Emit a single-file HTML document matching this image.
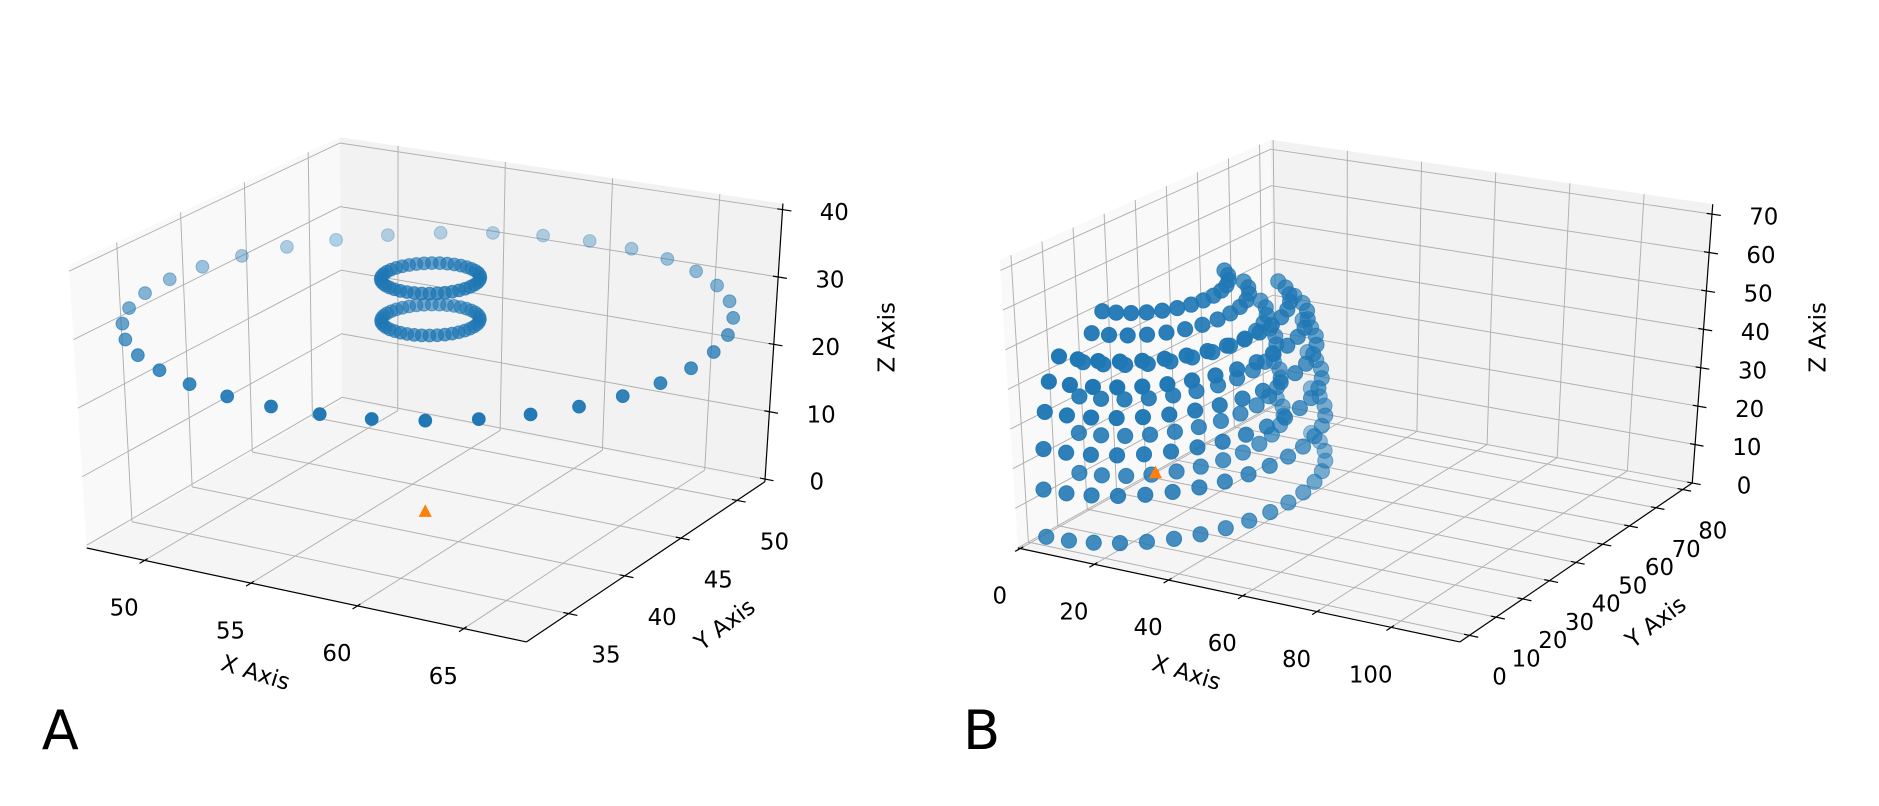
<!DOCTYPE html>
<html><head><meta charset="utf-8"><style>
html,body{margin:0;padding:0;background:#fff;}
svg{display:block;font-family:"DejaVu Sans","Liberation Sans",sans-serif;}
</style></head><body>
<svg id="fig" width="1879" height="806" viewBox="0 0 1560 669.2" xmlns="http://www.w3.org/2000/svg">
<g id="panelA"></g>
<g id="panelB"></g>
<text x="50" y="622" font-size="45" text-anchor="middle">A</text>
<text x="815" y="622" font-size="45" text-anchor="middle">B</text>
</svg>
<script>
// ---- Panel A data ----
const aXTicks = [50, 55, 60, 65];
const aYTicks = [35, 40, 45, 50];
const aZTicks = [0, 10, 20, 30, 40];
const aRingCenters = [[57.6, 41.9, 28.4], [57.6, 41.9, 29.0], [57.6, 41.9, 35.2]];
const aRingAxis1 = [[10.5, 6.5], [1.7, 1.05], [1.7, 1.05]];
const aRingAxis2 = [[5.6, -10.6], [0.93, -1.75], [0.93, -1.75]];
const aRingCounts = [36, 40, 40];
const aTarget = [57.3, 42.0, 0.2];
// ---- Panel B data ----
const bXTicks = [0, 20, 40, 60, 80, 100];
const bYTicks = [0, 10, 20, 30, 40, 50, 60, 70, 80];
const bZTicks = [0, 10, 20, 30, 40, 50, 60, 70];
const bCenter = [1, 41];
const bRadius = 37;
const bLonDeg = [-90,-81,-72,-63,-54,-45,-36,-27,-18,-9,0,9,18,27,36,45,54,63];
const bLevelZ = [0, 12, 22, 31, 38, 43];
const bLevelR = [1, 1, 0.98, 0.95, 0.9, 0.8];
const bInnerRadius = 28;
const bInnerLonDeg = [-85,-74,-63,-52,-41,-30,-19,-8,3,14,25,36,47,58];
const bInnerLevelZ = [13, 23, 32, 40, 46, 50];
const bInnerLevelR = [1, 0.98, 0.95, 0.88, 0.75, 0.6];
const bTarget = [0, 42.4, 0];

const NS = "http://www.w3.org/2000/svg";
function el(tag, attrs, parent){const e=document.createElementNS(NS,tag);for(const k in attrs)e.setAttribute(k,attrs[k]);parent.appendChild(e);return e;}

function makeProj(P){
  function bil(c,u,v){return [(1-u)*(1-v)*c[0][0]+u*(1-v)*c[1][0]+(1-u)*v*c[2][0]+u*v*c[3][0],
                              (1-u)*(1-v)*c[0][1]+u*(1-v)*c[1][1]+(1-u)*v*c[2][1]+u*v*c[3][1]];}
  return function(x,y,z){
    const u=(x-P.xl[0])/(P.xl[1]-P.xl[0]), v=(y-P.yl[0])/(P.yl[1]-P.yl[0]), w=(z-P.zl[0])/(P.zl[1]-P.zl[0]);
    const f=bil(P.F,u,v), t=bil(P.T,u,v);
    return [f[0]+(t[0]-f[0])*w, f[1]+(t[1]-f[1])*w, 0.433*u-0.75*v+0.5*w];
  };
}

function drawPanel(g, P, xt, yt, zt, pts, tri){
  const p=makeProj(P);
  const [x0,x1]=P.xl,[y0,y1]=P.yl,[z0,z1]=P.zl;
  const poly=(arr,fill,name)=>{const e=el('polygon',{points:arr.map(a=>{const q=p(...a);return q[0]+','+q[1];}).join(' '),fill:fill},g);
    
    };
  poly([[x0,y0,z0],[x0,y1,z0],[x0,y1,z1],[x0,y0,z1]],'#f9f9f9','left-pane');
  poly([[x0,y1,z0],[x1,y1,z0],[x1,y1,z1],[x0,y1,z1]],'#f2f2f2','back-pane');
  poly([[x0,y0,z0],[x1,y0,z0],[x1,y1,z0],[x0,y1,z0]],'#f5f5f5','floor-pane');
  const line=(a,b,stroke,sw,name)=>{const q=p(...a),r=p(...b);const e=el('line',{x1:q[0],y1:q[1],x2:r[0],y2:r[1],stroke:stroke,'stroke-width':sw},g);
    
    return e;};
  const gc='#b0b0b0', gw=0.8;
  yt.forEach(y=>{line([x0,y,z0],[x0,y,z1],gc,gw,'grid-line');line([x0,y,z0],[x1,y,z0],gc,gw,'grid-line');});
  zt.forEach(z=>{line([x0,y0,z],[x0,y1,z],gc,gw,'grid-line');line([x0,y1,z],[x1,y1,z],gc,gw,'grid-line');});
  xt.forEach(x=>{line([x,y1,z0],[x,y1,z1],gc,gw,'grid-line');line([x,y0,z0],[x,y1,z0],gc,gw,'grid-line');});
  line([x0,y0,z0],[x1,y0,z0],'#000',1,'x-axis-line');
  line([x1,y0,z0],[x1,y1,z0],'#000',1,'y-axis-line');
  line([x1,y1,z0],[x1,y1,z1],'#000',1,'z-axis-line');
  const yr=y1-y0,xr=x1-x0;
  const txt=(pt,s,size,name,rot)=>{const e=el('text',{x:pt[0],y:pt[1],'font-size':size,'text-anchor':'middle','dominant-baseline':'central'},g);
    if(rot!==undefined)e.setAttribute('transform','rotate('+rot+' '+pt[0]+' '+pt[1]+')');
    e.textContent=s;
    
    };
  xt.forEach(x=>{line([x,y0-0.02*yr,z0],[x,y0+0.012*yr,z0],'#000',1,'x-tick');const q=p(x,y0,z0);txt([q[0]+P.xo[0],q[1]+P.xo[1]],String(x),19,'x-tick-label');});
  yt.forEach(y=>{line([x1-0.012*xr,y,z0],[x1+0.02*xr,y,z0],'#000',1,'y-tick');const q=p(x1,y,z0);txt([q[0]+P.yo[0],q[1]+P.yo[1]],String(y),19,'y-tick-label');});
  zt.forEach(z=>{line([x1-0.012*xr,y1,z],[x1+0.02*xr,y1,z],'#000',1,'z-tick');const q=p(x1,y1,z);txt([q[0]+P.zo[0],q[1]+P.zo[1]],String(z),19,'z-tick-label');});
  txt(P.xlab,'X Axis',19,'x-axis-title',17);
  txt(P.ylab,'Y Axis',19,'y-axis-title',-37);
  txt(P.zlab,'Z Axis',19,'z-axis-title',-90);
  const proj=pts.map(a=>p(...a));
  let dmin=Infinity,dmax=-Infinity;proj.forEach(q=>{dmin=Math.min(dmin,q[2]);dmax=Math.max(dmax,q[2]);});
  proj.sort((a,b)=>a[2]-b[2]);
  proj.forEach(q=>{const al=1-P.fade*(dmax-q[2])/((dmax-dmin)||1);
    const c=el('circle',{cx:q[0],cy:q[1],r:P.r,fill:'#1f77b4','fill-opacity':al.toFixed(3),stroke:'#1f77b4','stroke-opacity':al.toFixed(3),'stroke-width':0.8},g);
    
    });
  const t=p(...tri);
  const tr=el('polygon',{points:(t[0])+','+(t[1]-6)+' '+(t[0]-5.5)+','+(t[1]+4.5)+' '+(t[0]+5.5)+','+(t[1]+4.5),fill:'#ff7f0e'},g);
  
  
}

const aPts=[];
aRingCenters.forEach((c,i)=>{const n=aRingCounts[i];for(let k=0;k<n;k++){const th=2*Math.PI*k/n;
  aPts.push([c[0]+aRingAxis1[i][0]*Math.cos(th)+aRingAxis2[i][0]*Math.sin(th), c[1]+aRingAxis1[i][1]*Math.cos(th)+aRingAxis2[i][1]*Math.sin(th), c[2]]);}});
drawPanel(document.getElementById('panelA'),{
  xl:[47.28,67.94], yl:[31.24,52.47], zl:[-0.4,40.9],
  F:[[72,455],[437,533],[284,332],[635,400]],
  T:[[57,220],[440,295],[282,114],[650,169]],
  xo:[-17,40], yo:[31,35], zo:[43,3],
  xlab:[212,559], ylab:[602,519], zlab:[737,280], r:5.3, fade:0.7
}, aXTicks, aYTicks, aZTicks, aPts, aTarget);

const bPts=[];
bLevelZ.forEach((z,i)=>{bLonDeg.forEach(d=>{const a=d*Math.PI/180;const r=bRadius*bLevelR[i];
  bPts.push([bCenter[0]+r*Math.cos(a), bCenter[1]+r*Math.sin(a), z]);});});
bInnerLevelZ.forEach((z,i)=>{bInnerLonDeg.forEach(d=>{const a=d*Math.PI/180;const r=bInnerRadius*bInnerLevelR[i];
  bPts.push([bCenter[0]+r*Math.cos(a), bCenter[1]+r*Math.sin(a), z]);});});
drawPanel(document.getElementById('panelB'),{
  xl:[-0.65,118.5], yl:[-3.6,83.6], zl:[0,72.6],
  F:[[845,455],[1212,533],[1058,336],[1405,401]],
  T:[[830,216],[1221,293],[1055,116],[1422,169.5]],
  xo:[-17,40], yo:[25,35], zo:[43,3],
  xlab:[985,559], ylab:[1375,517], zlab:[1510,280], r:6.3, fade:0.55
}, bXTicks, bYTicks, bZTicks, bPts, bTarget);
</script>
</body></html>
